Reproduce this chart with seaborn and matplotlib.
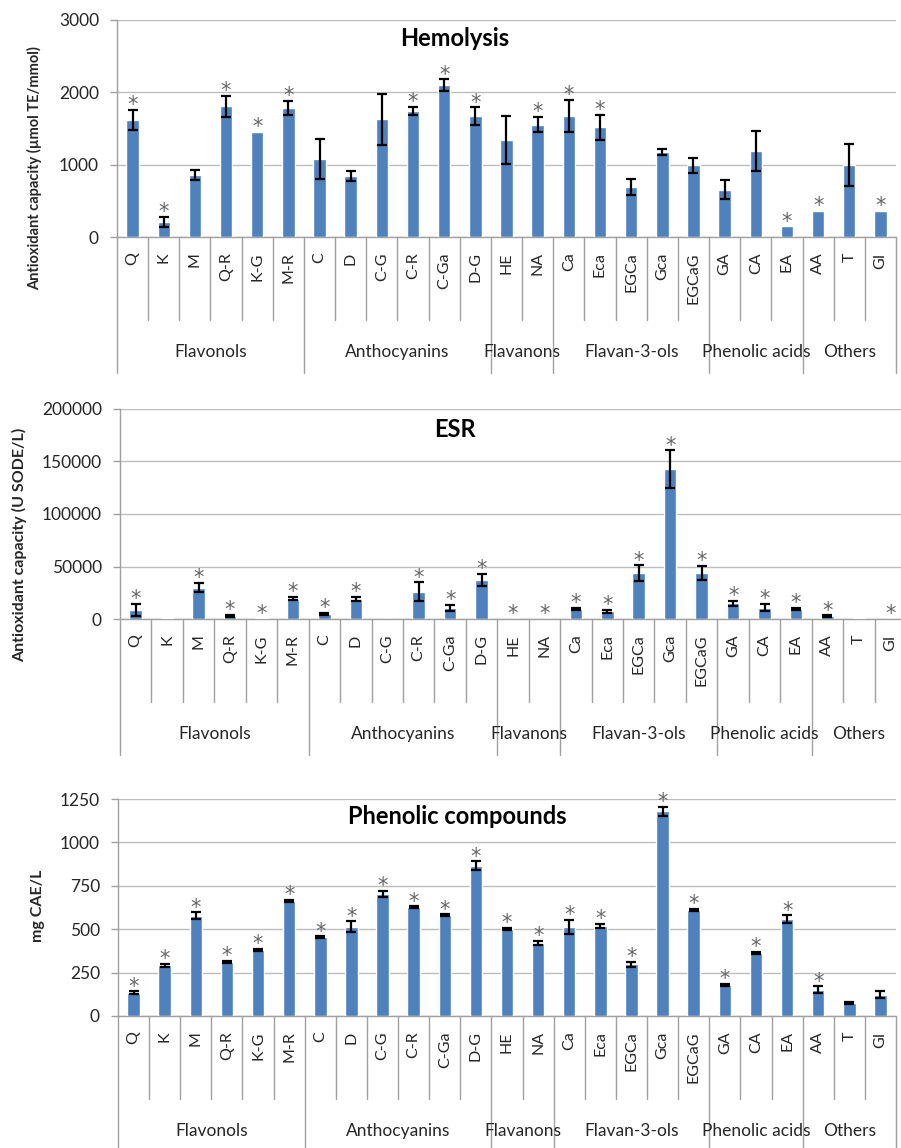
import numpy as np
import pandas as pd
import matplotlib
matplotlib.use("Agg")
import matplotlib.pyplot as plt
import seaborn as sns

# ---- data -------------------------------------------------------------
compounds = ["Q", "K", "M", "Q-R", "K-G", "M-R",
             "C", "D", "C-G", "C-R", "C-Ga", "D-G",
             "HE", "NA",
             "Ca", "Eca", "EGCa", "Gca", "EGCaG",
             "GA", "CA", "EA",
             "AA", "T", "GI"]
groups = ["Flavonols", "Anthocyanins", "Flavanons", "Flavan-3-ols",
          "Phenolic acids", "Others"]
group_sizes = [6, 6, 2, 5, 3, 3]

hemolysis_mean = [1620, 210, 855, 1810, 1455, 1785, 1075, 845, 1625, 1740, 2100, 1675,
                  1340, 1555, 1675, 1515, 690, 1180, 990, 655, 1185, 150, 360, 990, 360]
hemolysis_err = [140, 70, 70, 145, 0, 95, 277, 65, 355, 60, 80, 120,
                 335, 105, 220, 175, 110, 40, 100, 135, 277, 0, 0, 290, 0]
hemolysis_sig = [1, 1, 0, 1, 1, 1, 0, 0, 0, 1, 1, 1,
                 0, 1, 1, 1, 0, 0, 0, 0, 0, 1, 1, 0, 1]

esr_mean = [8800, 500, 30000, 3100, 800, 19500, 4700, 18900, 300, 25800, 10400, 37200,
            0, 0, 9400, 7200, 43500, 142700, 44000, 14800, 10700, 9400, 2800, 800, 0]
esr_err = [5500, 0, 4700, 1000, 0, 1500, 1000, 2000, 0, 9000, 3000, 6000,
           0, 0, 1000, 1500, 7500, 18000, 6500, 2500, 3500, 1000, 600, 0, 0]
esr_sig = [1, 0, 1, 1, 1, 1, 1, 1, 0, 1, 1, 1,
           1, 1, 1, 1, 1, 1, 1, 1, 1, 1, 1, 0, 1]

phenolic_mean = [135, 292, 578, 312, 380, 663, 453, 514, 703, 626, 582, 865,
                 501, 422, 514, 520, 297, 1179, 611, 181, 364, 557, 152, 77, 123]
phenolic_err = [8, 8, 20, 6, 8, 5, 5, 32, 19, 6, 4, 25,
                6, 12, 40, 12, 15, 25, 6, 6, 6, 22, 20, 5, 20]
phenolic_sig = [1, 1, 1, 1, 1, 1, 1, 1, 1, 1, 1, 1,
                1, 1, 1, 1, 1, 1, 1, 1, 1, 1, 1, 0, 0]

hemolysis_ticks = [0, 1000, 2000, 3000]
esr_ticks = [0, 50000, 100000, 150000, 200000]
phenolic_ticks = [0, 250, 500, 750, 1000, 1250]

# ---- style ------------------------------------------------------------
sns.set_style("white")
plt.rcParams["font.family"] = ["Lato", "DejaVu Sans"]

BAR = "#4F81BD"
GRID = "#BDBDBD"
AXIS = "#A0A0A0"
TEXT = "#262626"

W, H = 901, 1148
fig = plt.figure(figsize=(W / 100, H / 100), dpi=100)


def panel(box, mean, err, sig, ticks, title, title_xy, ylabel, ylabel_xy, ylabel_size):
    left, right, top, zero = box
    hpx = zero - top
    ax = fig.add_axes([left / W, 1 - zero / H, (right - left) / W, hpx / H])
    df = pd.DataFrame({"compound": compounds, "value": mean})
    sns.barplot(data=df, x="compound", y="value", order=compounds, color=BAR,
                saturation=1, width=0.4, errorbar=None, ax=ax, zorder=3)

    # error bars only where a spread was reported
    idx = [i for i, e in enumerate(err) if e > 0]
    ax.errorbar(idx, [mean[i] for i in idx], yerr=[err[i] for i in idx],
                fmt="none", ecolor="black", elinewidth=1.6, capsize=3.5,
                capthick=1.6, zorder=4)

    # significance asterisks
    for i, s in enumerate(sig):
        if s:
            ax.annotate("*", (i, mean[i] + err[i]), xytext=(0, -1),
                        textcoords="offset points", ha="center", va="baseline",
                        fontsize=15, family="DejaVu Sans", color="#666666",
                        zorder=5, annotation_clip=False)

    ax.set_xlim(-0.5, len(compounds) - 0.5)
    ax.set_ylim(ticks[0], ticks[-1])
    ax.set_yticks(ticks)
    ax.set_yticklabels([str(t) for t in ticks], fontsize=12.5, color=TEXT)
    ax.tick_params(axis="y", length=5, width=1, color=AXIS, pad=8, left=True)
    ax.set_xticks(range(len(compounds)))
    ax.set_xticklabels(compounds, rotation=90, fontsize=11.5, color=TEXT)
    ax.tick_params(axis="x", length=0, pad=11)
    ax.set_xlabel("")
    ax.set_ylabel("")
    ax.yaxis.grid(True, color=GRID, lw=1)
    ax.set_axisbelow(True)
    for side in ("top", "right"):
        ax.spines[side].set_visible(False)
    for side in ("left", "bottom"):
        ax.spines[side].set_color(AXIS)
        ax.spines[side].set_linewidth(1)

    # two-level category axis: item separators and group separators
    tr = ax.get_xaxis_transform()
    d1, d2, dlab = 83 / hpx, 136 / hpx, 115 / hpx
    bounds = np.cumsum([0] + group_sizes) - 0.5
    for b in np.arange(0.5, len(compounds) - 1, 1.0):
        if not np.any(np.isclose(bounds, b)):
            ax.plot([b, b], [0, -d1], transform=tr, color=AXIS, lw=1,
                    clip_on=False)
    for b in bounds:
        ax.plot([b, b], [0, -d2], transform=tr, color=AXIS, lw=1,
                clip_on=False)
    for g, lo, hi in zip(groups, bounds[:-1], bounds[1:]):
        ax.text((lo + hi) / 2, -dlab, g, transform=tr, ha="center", va="center",
                fontsize=12.5, color=TEXT)

    fig.text(title_xy[0] / W, 1 - title_xy[1] / H, title, ha="center",
             va="center", fontsize=17, fontweight="bold", color="black")
    fig.text(ylabel_xy[0] / W, 1 - ylabel_xy[1] / H, ylabel, rotation=90,
             ha="center", va="center", fontsize=ylabel_size, fontweight="bold",
             color=TEXT)
    return ax


panel((117, 896, 20, 237), hemolysis_mean, hemolysis_err, hemolysis_sig,
      hemolysis_ticks, "Hemolysis", (455, 38),
      "Antioxidant capacity (\u00b5mol TE/mmol)", (35, 168), 10.5)
panel((120, 906, 409, 619), esr_mean, esr_err, esr_sig,
      esr_ticks, "ESR", (455, 430),
      "Antioxidant capacity (U SODE/L)", (20, 545), 11.5)
panel((118, 896, 799, 1016), phenolic_mean, phenolic_err, phenolic_sig,
      phenolic_ticks, "Phenolic compounds", (457, 817),
      "mg CAE/L", (38, 906), 11.5)

fig.savefig("out.png", dpi=100, facecolor="white")
